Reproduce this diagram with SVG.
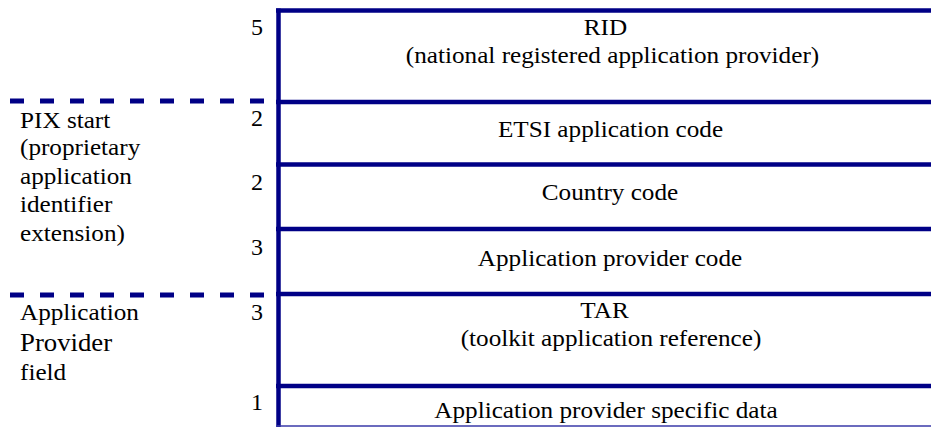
<svg xmlns="http://www.w3.org/2000/svg" width="931" height="427" viewBox="0 0 931 427">
<rect width="931" height="427" fill="#fff"/>
<g id="connectors" stroke="#000086" fill="none">
<line stroke-width="4.5" x1="278.5" y1="8.5" x2="278.5" y2="427"/>
<line stroke-width="4.5" x1="276" y1="10.5" x2="931" y2="10.5"/>
<line stroke-width="4.5" x1="276" y1="102" x2="931" y2="102"/>
<line stroke-width="4.5" x1="276" y1="164.5" x2="931" y2="164.5"/>
<line stroke-width="4.5" x1="276" y1="229" x2="931" y2="229"/>
<line stroke-width="4.5" x1="276" y1="294" x2="931" y2="294"/>
<line stroke-width="4.5" x1="276" y1="386" x2="931" y2="386"/>
<line x1="276" y1="426" x2="931" y2="426" stroke="#3a3aa8" stroke-width="1.5"/>
<line stroke-width="5" stroke-dasharray="14 16" x1="10" y1="101" x2="268" y2="101"/>
<line stroke-width="5" stroke-dasharray="14 16" x1="10" y1="295" x2="268" y2="295"/>
</g>
<text font-family="Liberation Serif" font-size="24" text-anchor="end" x="263" y="35">5</text>
<text font-family="Liberation Serif" font-size="24" text-anchor="middle" transform="translate(605.5,35) scale(1.05,1)">RID</text>
<text font-family="Liberation Serif" font-size="24" text-anchor="middle" transform="translate(612.5,63) scale(1.05,1)">(national registered application provider)</text>
<text font-family="Liberation Serif" font-size="24" text-anchor="end" x="263" y="126">2</text>
<text font-family="Liberation Serif" font-size="24" text-anchor="middle" transform="translate(610.5,137) scale(1.05,1)">ETSI application code</text>
<text font-family="Liberation Serif" font-size="24" text-anchor="end" x="263" y="190">2</text>
<text font-family="Liberation Serif" font-size="24" text-anchor="middle" transform="translate(610,200) scale(1.05,1)">Country code</text>
<text font-family="Liberation Serif" font-size="24" text-anchor="end" x="263" y="255">3</text>
<text font-family="Liberation Serif" font-size="24" text-anchor="middle" transform="translate(610,266) scale(1.05,1)">Application provider code</text>
<text font-family="Liberation Serif" font-size="24" text-anchor="end" x="263" y="320">3</text>
<text font-family="Liberation Serif" font-size="24" text-anchor="middle" transform="translate(604.5,318) scale(1.05,1)">TAR</text>
<text font-family="Liberation Serif" font-size="24" text-anchor="middle" transform="translate(611,346) scale(1.05,1)">(toolkit application reference)</text>
<text font-family="Liberation Serif" font-size="24" text-anchor="end" x="263" y="410">1</text>
<text font-family="Liberation Serif" font-size="24" text-anchor="middle" transform="translate(606,418) scale(1.05,1)">Application provider specific data</text>
<text font-family="Liberation Serif" font-size="24" transform="translate(20,128) scale(1.05,1)">PIX start</text>
<text font-family="Liberation Serif" font-size="24" transform="translate(20,155) scale(1.05,1)">(proprietary</text>
<text font-family="Liberation Serif" font-size="24" transform="translate(20,184) scale(1.05,1)">application</text>
<text font-family="Liberation Serif" font-size="24" transform="translate(20,212) scale(1.05,1)">identifier</text>
<text font-family="Liberation Serif" font-size="24" transform="translate(20,241) scale(1.05,1)">extension)</text>
<text font-family="Liberation Serif" font-size="24" transform="translate(20,320) scale(1.05,1)">Application</text>
<text font-family="Liberation Serif" font-size="25.5" transform="translate(20,351) scale(1.05,1)">Provider</text>
<text font-family="Liberation Serif" font-size="24" transform="translate(20,380) scale(1.05,1)">field</text>
</svg>
